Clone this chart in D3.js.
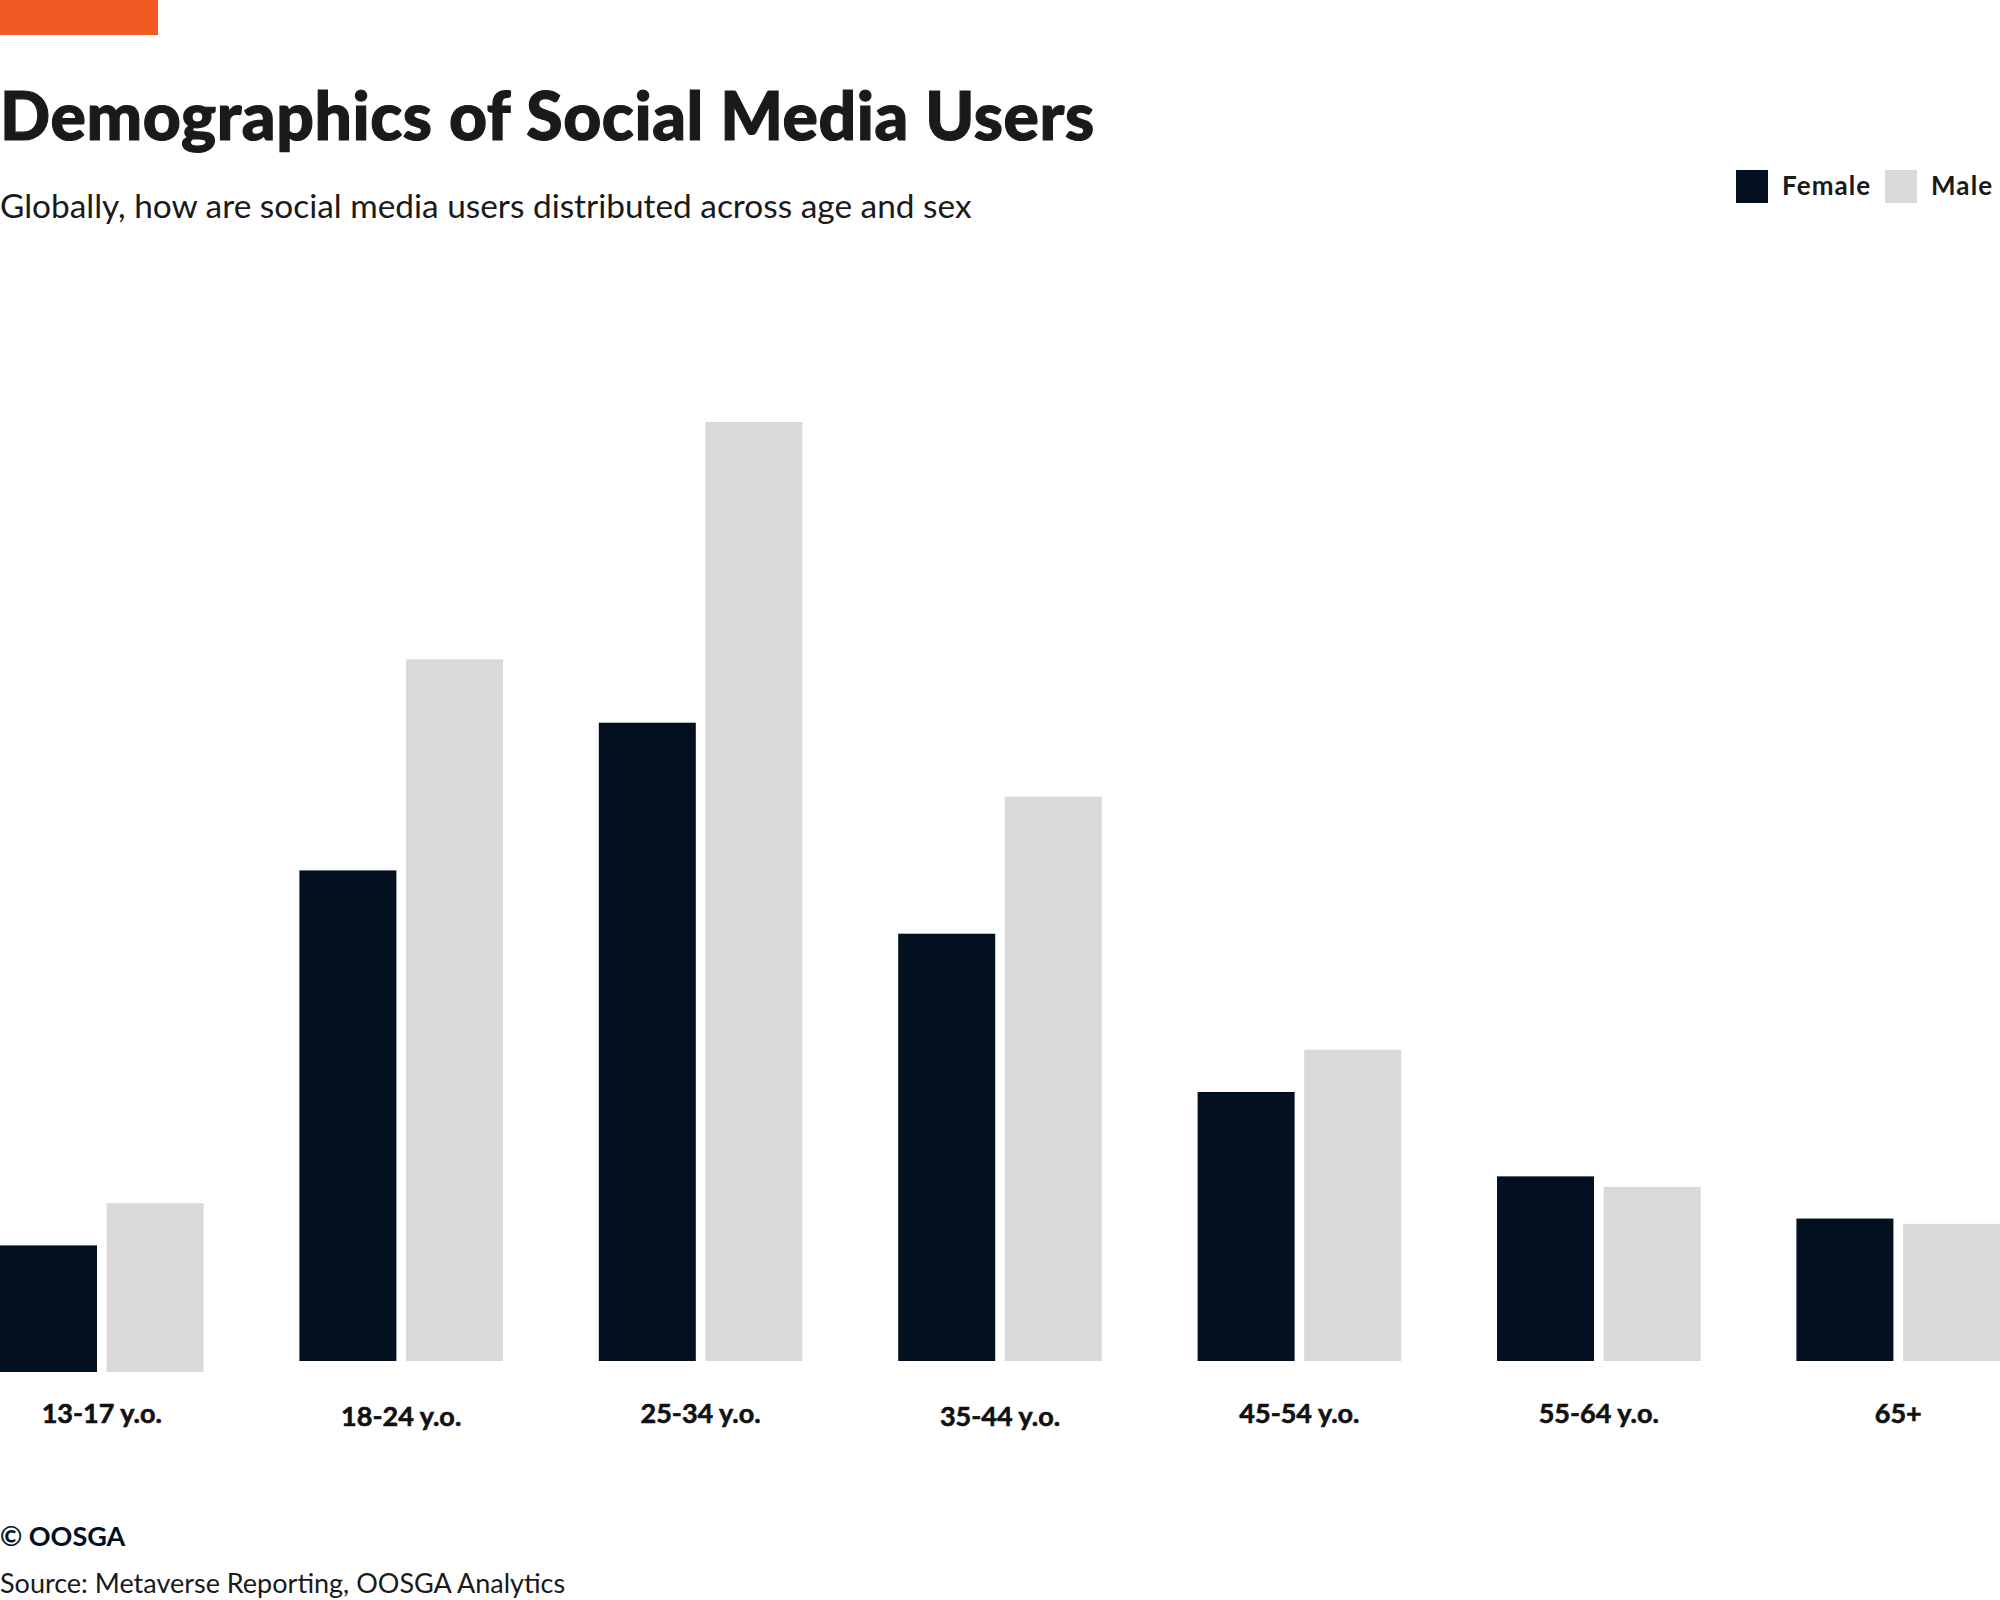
<!DOCTYPE html>
<html>
<head>
<meta charset="utf-8">
<script src="https://cdn.jsdelivr.net/npm/d3@7"></script>
<style>
  html, body { margin: 0; padding: 0; background: #ffffff; }
  svg { display: block; }
  text { font-family: Lato, "Open Sans", sans-serif; }
</style>
</head>
<body>
<svg id="chart" width="2000" height="1600"></svg>
<script>
// ---- data ----
const categories = ["13-17 y.o.", "18-24 y.o.", "25-34 y.o.", "35-44 y.o.", "45-54 y.o.", "55-64 y.o.", "65+"];
const seriesNames = ["Female", "Male"];
const femaleValues = [2.4, 9.3, 12.1, 8.1, 5.1, 3.5, 2.7];
const maleValues   = [3.2, 13.3, 17.8, 10.7, 5.9, 3.3, 2.6];
const colors = ["#03101f", "#d9d9d9"];

const titleText = "Demographics of Social Media Users";
const subtitleText = "Globally, how are social media users distributed across age and sex";
const copyrightText = "© OOSGA";
const sourceText = "Source: Metaverse Reporting, OOSGA Analytics";

// ---- build ----
const rows = categories.map((c, i) => ({ cat: c, Female: femaleValues[i], Male: maleValues[i] }));

const svg = d3.select("#chart");
const W = 2000;

// accent bar
svg.append("rect").attr("x", 0).attr("y", 0).attr("width", 158).attr("height", 35).attr("fill", "#f15a22");

svg.append("text").attr("x", 0).attr("y", 140)
  .attr("font-size", 66).attr("font-weight", 900).attr("fill", "#1a1a1a")
  .attr("stroke", "#1a1a1a").attr("stroke-width", 1.2).attr("letter-spacing", 0.6)
  .text(titleText);

svg.append("text").attr("x", 0).attr("y", 218)
  .attr("font-size", 33.4).attr("font-weight", 400).attr("fill", "#1a1a1a")
  .text(subtitleText);

// scales
const baseline = 1361;
const x0 = d3.scaleBand().domain(categories).range([0, W]).paddingInner(0.32).paddingOuter(0);
const x1 = d3.scaleBand().domain(seriesNames).range([0, x0.bandwidth()]).paddingInner(0.09).paddingOuter(0);
const y = d3.scaleLinear().domain([0, d3.max(maleValues)]).range([baseline, 422]);
const color = d3.scaleOrdinal().domain(seriesNames).range(colors);

// first group sits slightly lower in the original
const groupShift = (i) => (i === 0 ? 11 : 0);

const groups = svg.append("g").selectAll("g")
  .data(rows).join("g")
  .attr("transform", (d, i) => `translate(${x0(d.cat)},${groupShift(i)})`);

groups.selectAll("rect")
  .data(d => seriesNames.map(k => ({ key: k, value: d[k] })))
  .join("rect")
  .attr("x", d => x1(d.key))
  .attr("y", d => y(d.value))
  .attr("width", x1.bandwidth())
  .attr("height", d => y(0) - y(d.value))
  .attr("fill", d => color(d.key));

// category labels (axis without line/ticks)
const axis = d3.axisBottom(x0).tickSize(0).tickPadding(0);
const axisG = svg.append("g").attr("transform", `translate(0,1423)`).call(axis);
axisG.select(".domain").remove();
axisG.selectAll("text")
  .attr("y", 0).attr("dy", (d, i) => (i === 1 || i === 3) ? 3 : 0)
  .attr("font-family", "Lato, sans-serif")
  .attr("font-size", 27).attr("font-weight", 700).attr("fill", "#111111")
  .attr("stroke", "#111111").attr("stroke-width", 0.6);

// legend
const legend = svg.append("g");
const legendPos = [{ sx: 1736, tx: 1782 }, { sx: 1885, tx: 1931 }];
seriesNames.forEach((k, i) => {
  legend.append("rect").attr("x", legendPos[i].sx).attr("y", 170).attr("width", 32).attr("height", 33).attr("fill", color(k));
  legend.append("text").attr("x", legendPos[i].tx).attr("y", 195)
    .attr("font-size", 26).attr("font-weight", 700).attr("letter-spacing", 1.1).attr("fill", "#1a1a1a")
    .text(k);
});

// footer
svg.append("text").attr("x", 0).attr("y", 1546)
  .attr("font-size", 27).attr("font-weight", 700).attr("fill", "#03101f")
  .text(copyrightText);
svg.append("text").attr("x", 0).attr("y", 1593)
  .attr("font-size", 27).attr("font-weight", 400).attr("fill", "#1a1a1a")
  .text(sourceText);
</script>
</body>
</html>
